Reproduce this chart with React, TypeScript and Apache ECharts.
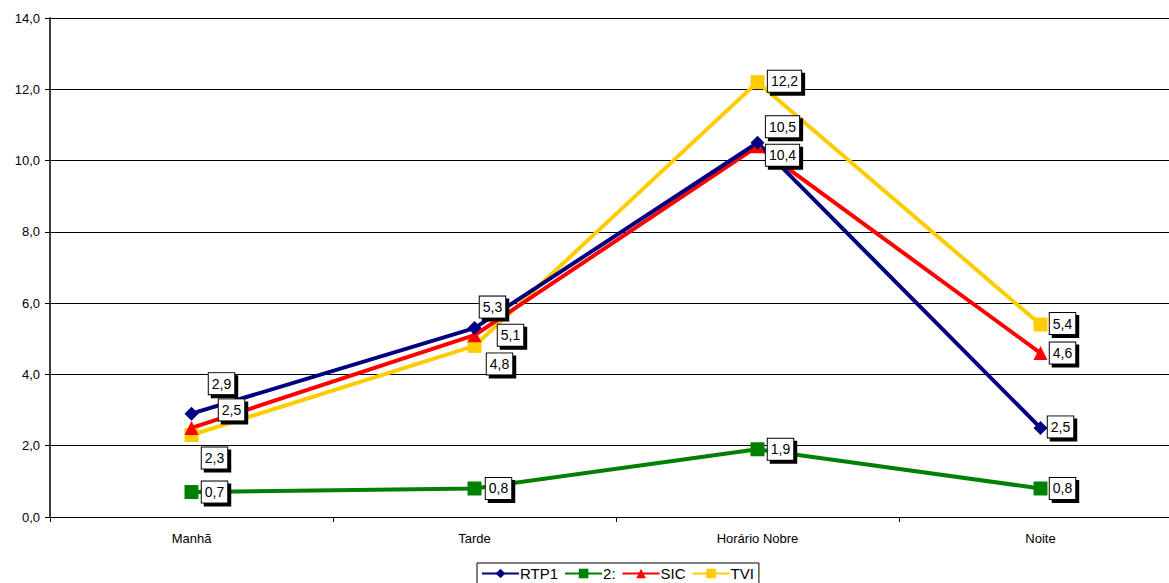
import React, { useEffect, useRef } from "react";
import * as echarts from "echarts";

const categories = ["Manhã", "Tarde", "Horário Nobre", "Noite"];
const rtp1 = [2.9, 5.3, 10.5, 2.5];
const dois = [0.7, 0.8, 1.9, 0.8];
const sic = [2.5, 5.1, 10.4, 4.6];
const tvi = [2.3, 4.8, 12.2, 5.4];

// label offsets (layout only)
const offRtp1 = [[30, -30], [18, -21], [25, -16], [20, -1]];
const offDois = [[23, 0], [24, 0], [23, 0], [22, 0]];
const offSic = [[40, -18], [36, 0], [25, 9], [22, 0]];
const offTvi = [[23, 23], [25, 18], [27, -1], [22, -1]];

const FONT = "Liberation Sans, Arial, sans-serif";
const fmt = (v: number) => v.toFixed(1).replace(".", ",");

function mkData(vals: number[], offs: number[][]) {
  return vals.map((v, i) => ({
    value: v,
    label: { offset: offs[i] },
  }));
}

function mkSeries(name: string, vals: number[], offs: number[][], color: string, symbol: string, size: number) {
  return {
    name,
    type: "line",
    data: mkData(vals, offs),
    symbol,
    symbolSize: size,
    showAllSymbol: true,
    lineStyle: { color, width: 4 },
    itemStyle: { color },
    label: {
      show: true,
      position: "inside",
      formatter: (p: any) => fmt(p.value),
      fontFamily: FONT,
      fontSize: 14,
      color: "#000",
      backgroundColor: "#fff",
      borderColor: "#000",
      borderWidth: 1,
      padding: [4, 3, 3, 3],
      shadowColor: "#000",
      shadowOffsetX: 3,
      shadowOffsetY: 3,
      shadowBlur: 0,
    },
    emphasis: { disabled: true },
    z: 3,
  };
}

export default function App() {
  const ref = useRef<HTMLDivElement>(null);
  useEffect(() => {
    const chart = echarts.init(ref.current!, null, { renderer: "svg" });
    chart.setOption({
      animation: false,
      backgroundColor: "#fff",
      grid: { left: 50, right: 0, top: 18, height: 499, containLabel: false },
      xAxis: {
        type: "category",
        data: categories,
        boundaryGap: true,
        axisLine: { lineStyle: { color: "#000", width: 1 } },
        axisTick: { show: true, length: 5, lineStyle: { color: "#000" } },
        axisLabel: { fontFamily: FONT, fontSize: 13, color: "#000", margin: 15 },
      },
      yAxis: {
        type: "value",
        min: 0,
        max: 14,
        interval: 2,
        axisLine: { show: true, lineStyle: { color: "#404040", width: 2 } },
        axisTick: { show: true, length: 5, lineStyle: { color: "#000" } },
        axisLabel: { fontFamily: FONT, fontSize: 13, color: "#000", margin: 10, formatter: (v: number) => fmt(v) },
        splitLine: { show: true, lineStyle: { color: "#000", width: 1 } },
      },
      legend: {
        left: 477,
        top: 563,
        orient: "horizontal",
        backgroundColor: "#fff",
        borderColor: "#000",
        borderWidth: 1,
        borderRadius: 0,
        padding: [3, 5, 3, 4],
        itemWidth: 37,
        itemHeight: 12,
        itemGap: 6,
        textStyle: { fontFamily: FONT, fontSize: 15, color: "#000", padding: [0, 0, 0, -4] },
        data: ["RTP1", "2:", "SIC", "TVI"],
      },
      series: [
        mkSeries("TVI", tvi, offTvi, "#FFCC00", "rect", 14),
        mkSeries("2:", dois, offDois, "#008000", "rect", 14),
        mkSeries("SIC", sic, offSic, "#FF0000", "triangle", 14),
        mkSeries("RTP1", rtp1, offRtp1, "#000080", "diamond", 14),
      ],
    });
    return () => chart.dispose();
  }, []);
  return (
    <div style={{ position: "fixed", left: 0, top: 0, width: 1169, height: 583, overflow: "hidden", background: "#fff" }}>
      <div ref={ref} style={{ width: 1182, height: 583 }} />
    </div>
  );
}
